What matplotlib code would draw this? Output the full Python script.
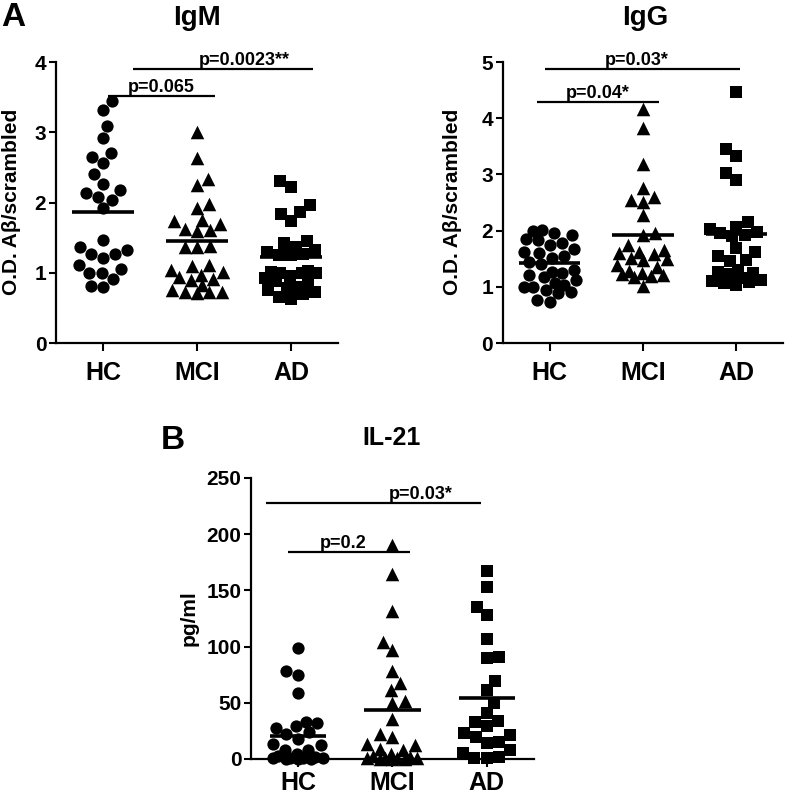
"""
IgM / IgG anti-Abeta titres and plasma IL-21 in HC, MCI and AD subjects.
Column scatter (GraphPad style) with group means and p-value brackets.
"""

import matplotlib.pyplot as plt
import numpy as np

plt.rcParams["font.family"] = ["Liberation Sans", "DejaVu Sans"]
plt.rcParams["font.weight"] = "bold"

# ==========================================
# DATA
# ==========================================
GROUPS = ["HC", "MCI", "AD"]

IGM_HC = [3.45, 3.32, 3.09, 2.92, 2.70, 2.65, 2.56, 2.40, 2.27, 2.18, 2.14,
          2.08, 2.04, 1.92, 1.46, 1.36, 1.33, 1.27, 1.27, 1.21, 1.11, 1.05,
          1.00, 0.99, 0.91, 0.81, 0.80]
IGM_MCI = [3.00, 2.63, 2.33, 2.25, 1.98, 1.92, 1.75, 1.73, 1.70, 1.63, 1.61,
           1.60, 1.38, 1.37, 1.37, 1.11, 1.09, 1.04, 1.01, 0.97, 0.94, 0.91,
           0.90, 0.82, 0.76, 0.73, 0.73, 0.72, 0.71]
IGM_AD = [2.31, 2.22, 1.96, 1.87, 1.84, 1.74, 1.45, 1.43, 1.36, 1.33, 1.30,
          1.27, 1.25, 1.25, 1.02, 1.01, 1.00, 0.99, 0.99, 0.95, 0.92, 0.88,
          0.86, 0.80, 0.78, 0.75, 0.72, 0.70, 0.66, 0.63]
IGM_MEANS = [1.87, 1.45, 1.22]

IGG_HC = [2.01, 2.00, 1.95, 1.92, 1.85, 1.83, 1.78, 1.75, 1.68, 1.62, 1.60,
          1.54, 1.52, 1.45, 1.40, 1.30, 1.27, 1.24, 1.21, 1.18, 1.12, 1.06,
          1.03, 1.00, 1.00, 0.94, 0.91, 0.89, 0.77, 0.73]
IGG_MCI = [4.16, 3.82, 3.18, 2.76, 2.60, 2.54, 2.51, 2.28, 1.95, 1.93, 1.74,
           1.65, 1.62, 1.60, 1.58, 1.52, 1.50, 1.47, 1.39, 1.36, 1.28, 1.24,
           1.22, 1.21, 1.19, 1.17, 1.02]
IGG_AD = [4.46, 3.46, 3.33, 3.02, 2.90, 2.15, 2.07, 2.02, 1.98, 1.95, 1.93,
          1.90, 1.69, 1.62, 1.54, 1.48, 1.46, 1.30, 1.27, 1.25, 1.23, 1.15,
          1.12, 1.10, 1.08, 1.06, 1.04]
IGG_MEANS = [1.43, 1.92, 1.94]

IL21_HC = [99, 78, 75, 59, 33, 32, 29, 28, 24, 22, 18, 13, 12, 8, 8, 4, 3, 2,
           1, 1, 0.5, 0.5, 0, 0, 0]
IL21_MCI = [190, 165, 132, 104, 97, 78, 68, 61, 52, 50, 36, 22, 20, 13, 12, 9,
            8, 4, 3, 2, 1, 1, 0.5, 0.5, 0, 0, 0]
IL21_AD = [167, 153, 135, 128, 107, 91, 90, 69, 61, 50, 41, 34, 33, 29, 23,
           21, 20, 15, 14, 8, 5, 2, 1, 0.5]
IL21_MEANS = [20.5, 43.5, 54.0]

# ==========================================
# LAYOUT / STYLE
# ==========================================
FIG_W, FIG_H, DPI = 7.87, 7.97, 100
MARKERS = ["o", "^", "s"]
MARKER_SIZES = [78, 95, 70]
MARKER_PX = 12.5
SWARM_HALF = 0.28          # max horizontal spread, data units

PANELS = [
    {
        "title": "IgM", "pos": [0.0712, 0.5696, 0.3583, 0.3526],
        "series": [IGM_HC, IGM_MCI, IGM_AD], "means": IGM_MEANS,
        "ylim": 4, "yticks": [0, 1, 2, 3, 4], "mean_half": 0.33,
        "brackets": [(0.05, 1.19, 3.51, "p=0.065", 0.62),
                     (0.32, 2.23, 3.90, "p=0.0023**", 1.50)],
        "ylabel": "O.D. A\u03b2/scrambled", "ylabel_xy": (12, 202),
        "title_xy": (197, 18), "title_size": 20, "xpad": 7,
    },
    {
        "title": "IgG", "pos": [0.6391, 0.5696, 0.3558, 0.3526],
        "series": [IGG_HC, IGG_MCI, IGG_AD], "means": IGG_MEANS,
        "ylim": 5, "yticks": [0, 1, 2, 3, 4, 5], "mean_half": 0.33,
        "brackets": [(-0.05, 2.04, 4.88, "p=0.03*", 0.93),
                     (-0.14, 1.17, 4.29, "p=0.04*", 0.52)],
        "ylabel": "O.D. A\u03b2/scrambled", "ylabel_xy": (452, 202),
        "title_xy": (645, 18), "title_size": 20, "xpad": 7,
    },
    {
        "title": "IL-21", "pos": [0.3189, 0.0477, 0.3596, 0.3526],
        "series": [IL21_HC, IL21_MCI, IL21_AD], "means": IL21_MEANS,
        "ylim": 250, "yticks": [0, 50, 100, 150, 200, 250], "mean_half": 0.30,
        "brackets": [(-0.34, 1.94, 228, "p=0.03*", 1.30),
                     (-0.11, 1.19, 184, "p=0.2", 0.48)],
        "ylabel": "pg/ml", "ylabel_xy": (189, 618),
        "title_xy": (392, 438), "title_size": 18, "xpad": 3,
    },
]


def swarm_offsets(values, x_scale, y_scale, diam, half):
    """Beeswarm x offsets (data units); spread capped at +/- half, overlap
    allowed once the column is full (as GraphPad does near the floor)."""
    vals = np.asarray(values, dtype=float)
    order = np.argsort(vals)
    max_px = half * x_scale
    grid = list(np.arange(-max_px, max_px + 0.01, diam / 4.0))
    placed = []
    offsets = np.zeros(len(vals))
    for n, i in enumerate(order):
        y = vals[i] * y_scale
        cands = [0.0] + grid
        for px, py in placed:
            dy = y - py
            if abs(dy) < diam:
                dx = np.sqrt(diam ** 2 - dy ** 2)
                cands += [px - dx, px + dx]
        cands = [c for c in cands if abs(c) <= max_px + 1e-6]
        sign = 1 if n % 2 else -1
        cands.sort(key=lambda c: (round(abs(c), 3), sign * c))

        def overlap(c):
            if not placed:
                return 0.0
            return max(diam - np.hypot(c - px, y - py) for px, py in placed)

        best = min(cands, key=lambda c: (max(overlap(c), 0.0), abs(c)))
        for c in cands:
            if overlap(c) <= 1e-6:
                best = c
                break
        placed.append((best, y))
        offsets[i] = best / x_scale
    return offsets


def px_to_fig(x, y):
    return x / (FIG_W * DPI), 1 - y / (FIG_H * DPI)


fig = plt.figure(figsize=(FIG_W, FIG_H), dpi=DPI)

for p in PANELS:
    ax = fig.add_axes(p["pos"])
    ax.set_xlim(-0.5, 2.5)
    ax.set_ylim(0, p["ylim"])
    ax.set_yticks(p["yticks"])
    ax.set_xticks(range(len(GROUPS)))
    ax.set_xticklabels(GROUPS, fontsize=18, fontweight="bold")
    ax.tick_params(axis="y", labelsize=15, length=5, width=1.5, pad=2)
    ax.tick_params(axis="x", length=6, width=1.5, pad=p["xpad"])
    for side in ("top", "right"):
        ax.spines[side].set_visible(False)
    for side in ("left", "bottom"):
        ax.spines[side].set_linewidth(1.6)

    x_scale = p["pos"][2] * FIG_W * DPI / 3.0
    y_scale = p["pos"][3] * FIG_H * DPI / p["ylim"]

    for i, vals in enumerate(p["series"]):
        offs = swarm_offsets(vals, x_scale, y_scale, MARKER_PX, SWARM_HALF)
        ax.scatter(i + offs, vals, marker=MARKERS[i], s=MARKER_SIZES[i],
                   c="black", linewidths=0, clip_on=False, zorder=3)
        h = p["mean_half"]
        ax.plot([i - h, i + h], [p["means"][i]] * 2, color="black", lw=2.6,
                solid_capstyle="butt", zorder=4)

    for x0, x1, y, label, tx in p["brackets"]:
        ax.plot([x0, x1], [y, y], color="black", lw=1.6, clip_on=False,
                solid_capstyle="butt")
        ax.text(tx, y, label, ha="center", va="bottom", fontsize=13,
                fontweight="bold", clip_on=False)

    fx, fy = px_to_fig(*p["title_xy"])
    fig.text(fx, fy, p["title"], ha="center", va="center",
             fontsize=p["title_size"], fontweight="bold")
    lx, ly = px_to_fig(*p["ylabel_xy"])
    fig.text(lx, ly, p["ylabel"], ha="center", va="center", rotation=90,
             fontsize=15, fontweight="bold")

fig.text(*px_to_fig(1, 18), "A", ha="left", va="center", fontsize=24,
         fontweight="bold")
fig.text(*px_to_fig(161, 441), "B", ha="left", va="center", fontsize=24,
         fontweight="bold")

fig.savefig("out.png", dpi=DPI)
